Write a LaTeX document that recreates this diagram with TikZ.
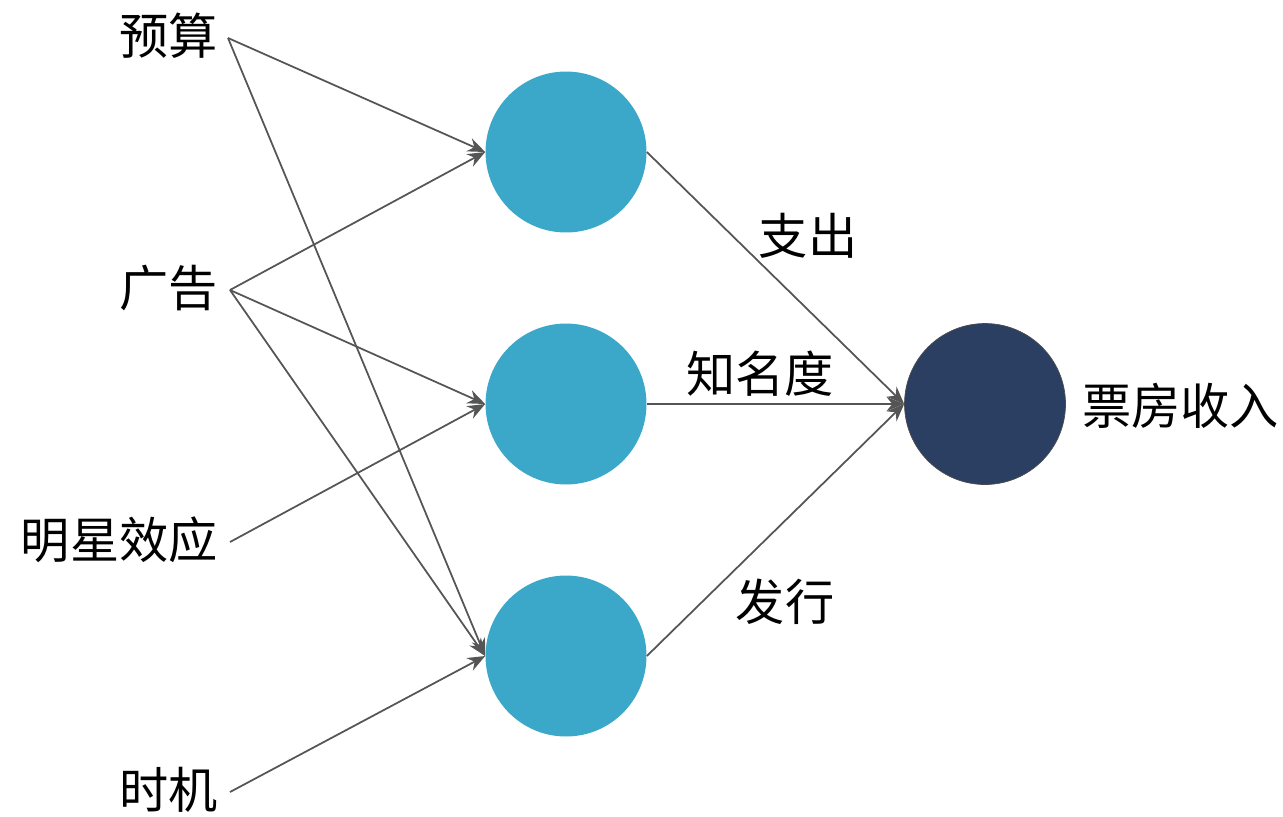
\documentclass[tikz,border=0pt]{standalone}
\usepackage{fontspec}
\newfontfamily\cjk{Noto Sans CJK SC}
\usetikzlibrary{arrows.meta}
\definecolor{hid}{HTML}{3BA8C9}
\definecolor{outc}{HTML}{2A3F62}
\definecolor{edge}{HTML}{555555}
\begin{document}
\begin{tikzpicture}[x=0.02cm,y=-0.02cm,
  lbl/.style={font=\cjk\fontsize{28}{32}\selectfont,inner sep=0pt},
  hn/.style={circle,fill=hid,minimum size=3.22cm,inner sep=0pt},
  on/.style={circle,fill=outc,draw=black!70,minimum size=3.22cm,inner sep=0pt},
  ar/.style={draw=edge,line width=1pt,-{Stealth[length=10pt,width=8pt]}}]
\useasboundingbox (0,0) rectangle (1283,816);
\node[lbl,anchor=east] (i1) at (218,36) {预算};
\node[lbl,anchor=east] (i2) at (218,288) {广告};
\node[lbl,anchor=east] (i3) at (218,540) {明星效应};
\node[lbl,anchor=east] (i4) at (218,790) {时机};
\coordinate (s1) at (228,38);
\coordinate (s2) at (230,290);
\coordinate (s3) at (230,542);
\coordinate (s4) at (230,792);
\node[hn] (h1) at (566,152) {};
\node[hn] (h2) at (566,404) {};
\node[hn] (h3) at (566,656) {};
\node[on] (o) at (985,404) {};
\node[lbl,anchor=west] (ol) at (1082,406) {票房收入};
\draw[ar] (s1) -- (h1.west);
\draw[ar] (s1) -- (h3.west);
\draw[ar] (s2) -- (h1.west);
\draw[ar] (s2) -- (h2.west);
\draw[ar] (s2) -- (h3.west);
\draw[ar] (s3) -- (h2.west);
\draw[ar] (s4) -- (h3.west);
\draw[ar] (h1.east) -- (o.west);
\draw[ar] (h2.east) -- (o.west);
\draw[ar] (h3.east) -- (o.west);
\node[lbl] (l1) at (808,236) {支出};
\node[lbl] (l2) at (760,374) {知名度};
\node[lbl] (l3) at (785,602) {发行};
\end{tikzpicture}
\end{document}
